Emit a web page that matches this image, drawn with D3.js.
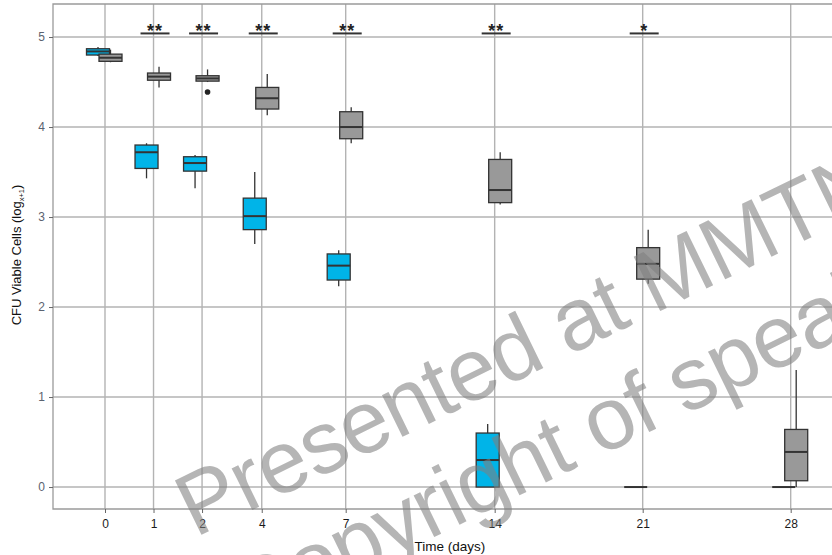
<!DOCTYPE html>
<html>
<head>
<meta charset="utf-8">
<script src="https://cdn.jsdelivr.net/npm/d3@7"></script>
<style>
  html, body { margin: 0; padding: 0; background: #fff; }
  svg { display: block; font-family: "Liberation Sans", Arial, sans-serif; }
</style>
</head>
<body>
<svg id="chart" width="832" height="555"></svg>
<script>
// Sampling days (x axis ticks)
const days = [0, 1, 2, 4, 7, 14, 21, 28];
// Relative spacing of the day slots along the time axis
const daySlots = [0, 1, 2, 3.23, 4.96, 8.03, 11.08, 14.13];
const yTicks = [0, 1, 2, 3, 4, 5];

// Box statistics per day: [min, q1, median, q3, max] of log CFU
const blueStats = [
  [4.79, 4.80, 4.84, 4.87, 4.89],
  [3.43, 3.54, 3.72, 3.80, 3.82],
  [3.32, 3.51, 3.60, 3.67, 3.69],
  [2.70, 2.86, 3.01, 3.21, 3.50],
  [2.23, 2.30, 2.46, 2.59, 2.63],
  [0.00, 0.00, 0.30, 0.60, 0.70],
  [0.00, 0.00, 0.00, 0.00, 0.00],
  [0.00, 0.00, 0.00, 0.00, 0.00]
];
const greyStats = [
  [4.72, 4.73, 4.77, 4.81, 4.86],
  [4.44, 4.52, 4.56, 4.60, 4.67],
  [4.50, 4.51, 4.54, 4.57, 4.64],
  [4.13, 4.20, 4.32, 4.44, 4.59],
  [3.82, 3.87, 4.00, 4.17, 4.22],
  [3.14, 3.16, 3.30, 3.64, 3.72],
  [2.26, 2.31, 2.48, 2.66, 2.86],
  [0.00, 0.07, 0.39, 0.64, 1.30]
];
// Outliers of the grey series: [day, value]
const greyOutliers = [[2, 4.39]];

// Significance marks above each day
const sigDays = [1, 2, 4, 7, 14, 21];
const sigLabels = ["**", "**", "**", "**", "**", "*"];

const svg = d3.select("#chart");
const plot = { left: 53, right: 850, top: 4, bottom: 509 };

const slotScale = d3.scaleLinear().domain(d3.extent(daySlots)).range([105, 790.7]);
const x = d3.scaleLinear().domain(days).range(daySlots.map(slotScale));
const y = d3.scaleLinear().domain([-0.244, 5.367]).range([plot.bottom, plot.top]);

const gridColor = "#b3b3b3";
const ink = "#333333";

// Grid lines
const grid = svg.append("g");
grid.selectAll("line.h").data(yTicks).join("line")
  .attr("x1", plot.left).attr("x2", plot.right)
  .attr("y1", d => y(d)).attr("y2", d => y(d))
  .attr("stroke", gridColor).attr("stroke-width", 1.4);
grid.selectAll("line.v").data(days).join("line")
  .attr("x1", d => x(d)).attr("x2", d => x(d))
  .attr("y1", plot.top).attr("y2", plot.bottom)
  .attr("stroke", gridColor).attr("stroke-width", 1.4);

// Panel frame (top, left, bottom)
svg.append("path")
  .attr("d", `M${plot.right},${plot.top}H${plot.left}V${plot.bottom}H${plot.right}`)
  .attr("fill", "none").attr("stroke", "#9a9a9a").attr("stroke-width", 1.3);

// Axes
const yAxis = svg.append("g").attr("transform", `translate(${plot.left},0)`)
  .call(d3.axisLeft(y).tickValues(yTicks).tickSize(4).tickPadding(4).tickFormat(d3.format("d")));
yAxis.select(".domain").remove();
yAxis.selectAll("line").attr("stroke", "#666");
yAxis.selectAll("text").attr("fill", "#5a6270").attr("font-size", 12);

const xAxis = svg.append("g").attr("transform", `translate(0,${plot.bottom})`)
  .call(d3.axisBottom(x).tickValues(days).tickSize(4).tickPadding(6).tickFormat(d => String(d)));
xAxis.select(".domain").remove();
xAxis.selectAll("line").attr("stroke", "#666");
xAxis.selectAll("text").attr("fill", "#1a1a1a").attr("font-size", 12);

// Axis titles
const yTitle = svg.append("text")
  .attr("transform", `translate(21,255) rotate(-90)`)
  .attr("text-anchor", "middle").attr("font-size", 13).attr("fill", "#111");
yTitle.append("tspan").text("CFU Viable Cells (log");
yTitle.append("tspan").attr("font-size", 7.5).attr("dy", 3).text("x+1");
yTitle.append("tspan").attr("dy", -3).text(")");

svg.append("text").attr("x", 450).attr("y", 551)
  .attr("text-anchor", "middle").attr("font-size", 13.5).attr("fill", "#111")
  .text("Time (days)");

// Box plots
const boxW = 23;
const series = [
  { stats: blueStats, fill: "#00b4e8", offset: -7 },
  { stats: greyStats, fill: "#999999", offset: 5.5 }
];

series.forEach(s => {
  const g = svg.append("g");
  const rows = s.stats.map((st, i) => ({ day: days[i], st }));
  const cx = d => x(d.day) + s.offset;
  // whiskers
  g.selectAll("line.whisker").data(rows).join("line")
    .attr("x1", cx).attr("x2", cx)
    .attr("y1", d => y(d.st[0])).attr("y2", d => y(d.st[4]))
    .attr("stroke", ink).attr("stroke-width", 1.3);
  // boxes
  g.selectAll("rect").data(rows).join("rect")
    .attr("x", d => cx(d) - boxW / 2).attr("width", boxW)
    .attr("y", d => y(d.st[3])).attr("height", d => y(d.st[1]) - y(d.st[3]))
    .attr("fill", s.fill).attr("stroke", ink).attr("stroke-width", 1.3);
  // medians
  g.selectAll("line.median").data(rows).join("line")
    .attr("x1", d => cx(d) - boxW / 2).attr("x2", d => cx(d) + boxW / 2)
    .attr("y1", d => y(d.st[2])).attr("y2", d => y(d.st[2]))
    .attr("stroke", ink).attr("stroke-width", 2);
});

// Outlier points
svg.append("g").selectAll("circle").data(greyOutliers).join("circle")
  .attr("cx", d => x(d[0]) + 5.5).attr("cy", d => y(d[1])).attr("r", 2.8)
  .attr("fill", "#222");

// Significance bars and asterisks
const sig = svg.append("g");
sig.selectAll("line").data(sigDays).join("line")
  .attr("x1", d => x(d) - 13).attr("x2", d => x(d) + 16)
  .attr("y1", y(5.04)).attr("y2", y(5.04))
  .attr("stroke", ink).attr("stroke-width", 2);
sig.selectAll("text").data(sigDays).join("text")
  .attr("x", d => x(d) + 1.5).attr("y", 37)
  .attr("text-anchor", "middle").attr("font-size", 18).attr("font-weight", "bold")
  .attr("letter-spacing", 1).attr("fill", "#222")
  .text((d, i) => sigLabels[i]);

// Watermark
const wm = svg.append("g")
  .attr("transform", "translate(195,538) rotate(-26)")
  .attr("fill", "#808080").attr("fill-opacity", 0.58)
  .attr("font-size", 88).attr("letter-spacing", -1);
wm.append("text").attr("x", 0).attr("y", 0).text("Presented at MMTN");
wm.append("text").attr("x", 8).attr("y", 104).text("Copyright of speaker");
</script>
</body>
</html>
